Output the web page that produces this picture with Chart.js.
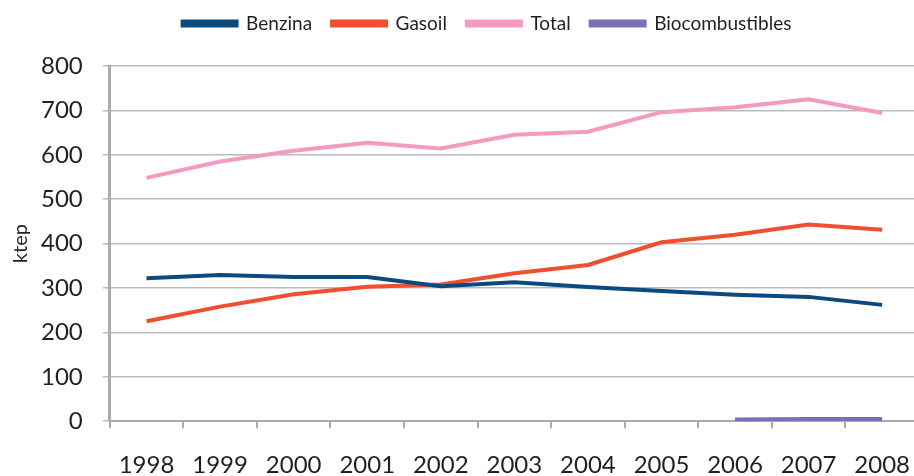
<!DOCTYPE html>
<html>
<head>
<meta charset="utf-8">
<script src="https://cdn.jsdelivr.net/npm/chart.js@4.4.1/dist/chart.umd.min.js"></script>
<style>
  html, body { margin: 0; padding: 0; background: #fff; overflow: hidden; }
  canvas { display: block; }
</style>
</head>
<body>
<canvas id="myChart" width="933" height="503"></canvas>
<script>
const years = ['1998', '1999', '2000', '2001', '2002', '2003', '2004', '2005', '2006', '2007', '2008'];
const benzina = [322, 329, 325, 325, 304, 313, 302, 293, 285, 280, 262];
const gasoil = [225, 258, 286, 303, 308, 333, 352, 403, 420, 443, 431];
const total = [548, 585, 609, 627, 614, 645, 652, 696, 707, 725, 694];
const biocombustibles = [null, null, null, null, null, null, null, null, 4, 5, 5];
const yTicks = [0, 100, 200, 300, 400, 500, 600, 700, 800];

const axisGray = '#a9abae';
const textColor = '#231f20';

function serie(label, data, color) {
  return {
    label: label,
    data: data,
    borderColor: color,
    backgroundColor: color,
    borderWidth: 4,
    pointRadius: 0,
    tension: 0,
    spanGaps: false
  };
}

// legend: extra room under it, and moved over the plot area like the original
const legendTweak = {
  id: 'legendTweak',
  beforeInit(chart) {
    const fit = chart.legend.fit;
    chart.legend.fit = function () {
      fit.call(this);
      this.height += 17;
    };
  },
  afterLayout(chart) {
    chart.legend.left += 20;
    chart.legend.right += 20;
    chart.legend.top -= 6;
    chart.legend.bottom -= 6;
  }
};

const ctx = document.getElementById('myChart');

new Chart(ctx, {
  type: 'line',
  data: {
    labels: years,
    datasets: [
      serie('Benzina', benzina, '#0b4a80'),
      serie('Gasoil', gasoil, '#f04e2c'),
      serie('Total', total, '#f49ac1'),
      serie('Biocombustibles', biocombustibles, '#7c6fb8')
    ]
  },
  options: {
    responsive: false,
    animation: false,
    layout: { padding: { left: 1, right: 0, top: 0, bottom: 0 } },
    plugins: {
      legend: {
        position: 'top',
        labels: {
          boxWidth: 54,
          boxHeight: 4,
          padding: 20,
          color: textColor,
          font: { family: 'Lato', size: 19 }
        }
      },
      tooltip: { enabled: false }
    },
    scales: {
      x: {
        type: 'category',
        offset: true,
        grid: {
          offset: true,
          drawOnChartArea: false,
          drawTicks: true,
          tickLength: 7,
          color: axisGray,
          lineWidth: 2
        },
        border: { color: axisGray, width: 2 },
        ticks: {
          color: textColor,
          padding: 23,
          maxRotation: 0,
          autoSkip: false,
          font: { family: 'Lato', size: 24 }
        }
      },
      y: {
        min: 0,
        max: 800,
        afterBuildTicks(axis) {
          axis.ticks = yTicks.map(v => ({ value: v }));
        },
        grid: {
          color: '#b9bbbe',
          lineWidth: 1.5,
          tickLength: 7
        },
        border: { color: axisGray, width: 3 },
        ticks: {
          color: textColor,
          padding: 20,
          font: { family: 'Lato', size: 24 }
        },
        title: {
          display: true,
          text: 'ktep',
          color: textColor,
          padding: { top: 10, bottom: -10 },
          font: { family: 'Lato', size: 20, lineHeight: 1 }
        }
      }
    }
  },
  plugins: [legendTweak]
});
</script>
</body>
</html>
